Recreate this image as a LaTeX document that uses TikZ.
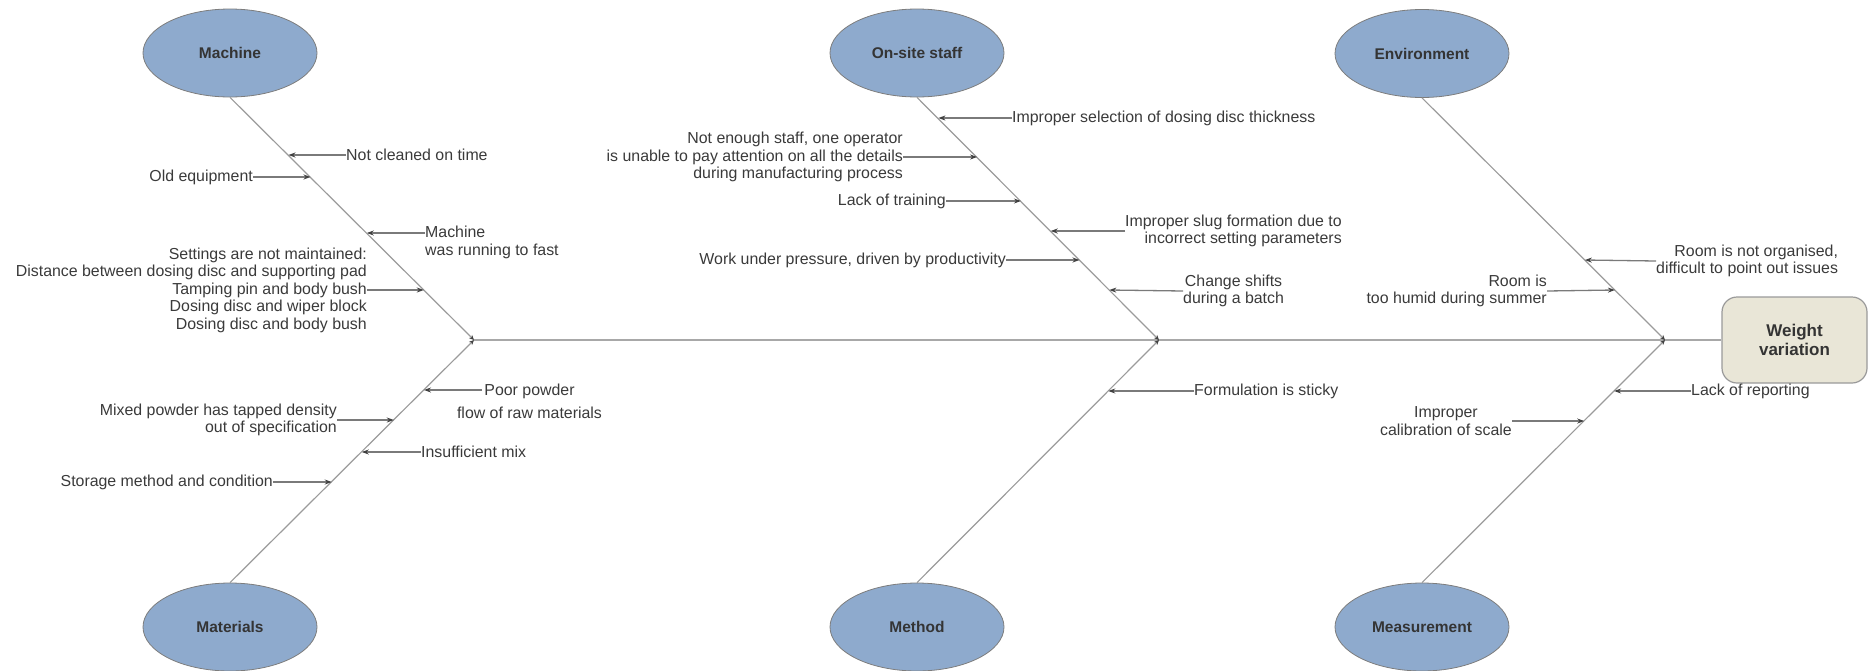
\documentclass[tikz,border=0pt]{standalone}
\usepackage{fontspec}
\setmainfont{Liberation Sans}
\usetikzlibrary{arrows.meta,shapes.geometric,calc}

\definecolor{catfill}{HTML}{8EAACD}
\definecolor{catedge}{HTML}{7D7D7D}
\definecolor{boxfill}{HTML}{E9E6D7}
\definecolor{boxedge}{HTML}{9A9A9A}
\definecolor{bonegray}{HTML}{9B9B9B}
\definecolor{spinegray}{HTML}{A8A8A8}
\definecolor{causeline}{HTML}{7A7A7A}
\definecolor{ink}{HTML}{3A3A3A}
\definecolor{tipink}{HTML}{404040}

\tikzset{
  category/.style={ellipse, draw=catedge, line width=0.8pt, fill=catfill,
    minimum width=174pt, minimum height=88pt, inner sep=0pt,
    font=\fontsize{15.5}{18}\selectfont\bfseries, text=ink!90!black},
  effectbox/.style={rectangle, rounded corners=15pt, draw=boxedge, line width=1.2pt,
    fill=boxfill, minimum width=145pt, minimum height=86pt, align=center,
    font=\fontsize{17}{18.5}\selectfont\bfseries, text=ink!90!black},
  cause/.style={inner sep=0pt, text=ink, font=\fontsize{15.9}{17.5}\selectfont},
  bone/.style={draw=bonegray, line width=1.2pt,
    -{Stealth[length=5pt,width=4.5pt,fill=tipink,color=tipink]}},
  spine/.style={draw=spinegray, line width=2.2pt},
  causearrow/.style={draw=causeline, line width=1.3pt,
    -{Stealth[length=7pt,width=5pt,fill=tipink,color=tipink]}}
}

\begin{document}
\begin{tikzpicture}[x=1pt, y=-1pt]
\useasboundingbox (0,0) rectangle (1874,670);

% category ellipses
\node[category] (machine) at (230,53) {Machine};
\node[category] (staff) at (917,53) {On-site staff};
\node[category] (environment) at (1422,53.5) {Environment};
\node[category] (materials) at (230,627) {Materials};
\node[category] (method) at (917,627) {Method};
\node[category] (measurement) at (1422,627) {Measurement};

% effect
\node[effectbox] (effect) at (1794.5,340) {Weight\\variation};

% junctions on the spine
\coordinate (jL) at (474,340);
\coordinate (jM) at (1159,340);
\coordinate (jR) at (1665,340);

\draw[spine] (jL) -- (effect.west);

\draw[bone] (machine.south) -- (jL);
\draw[bone] (materials.north) -- (jL);
\draw[bone] (staff.south) -- (jM);
\draw[bone] (method.north) -- (jM);
\draw[bone] (environment.south) -- (jR);
\draw[bone] (measurement.north) -- (jR);

% ---- Machine ----
\coordinate (t1) at (288.5,155);
\coordinate (t2) at (310.5,177);
\coordinate (t3) at (366.8,233);
\coordinate (t4) at (423.8,290);
\node[cause, anchor=west] (c1) at (346,155) {Not cleaned on time};
\node[cause, anchor=east] (c2) at (253,177) {Old equipment};
\node[cause, anchor=west, align=left] (c3) at (425,242.5) {Machine\\was running to fast};
\node[cause, anchor=east, align=right] (c4) at (367,290)
  {Settings are not maintained:\\Distance between dosing disc and supporting pad\\Tamping pin and body bush\\Dosing disc and wiper block\\Dosing disc and body bush};
\draw[causearrow] (c1.west) -- (t1);
\draw[causearrow] (c2.east) -- (t2);
\draw[causearrow] (c3.west |- t3) -- (t3);
\draw[causearrow] (c4.east) -- (t4);

% ---- Materials ----
\coordinate (t5) at (424,390);
\coordinate (t6) at (393.8,420);
\coordinate (t7) at (361.8,452);
\coordinate (t8) at (331.7,482);
\coordinate (s5) at (482,390);
\node[cause, align=center] (c5) at (529.5,401.5) {Poor powder\\[5pt]flow of raw materials};
\node[cause, anchor=east, align=right] (c6) at (337,420) {Mixed powder has tapped density\\out of specification};
\node[cause, anchor=west] (c7) at (421,452) {Insufficient mix};
\node[cause, anchor=east] (c8) at (273,482) {Storage method and condition};
\draw[causearrow] (s5) -- (t5);
\draw[causearrow] (c6.east) -- (t6);
\draw[causearrow] (c7.west) -- (t7);
\draw[causearrow] (c8.east) -- (t8);

% ---- On-site staff ----
\coordinate (t9) at (938.4,118);
\coordinate (t10) at (977.1,157);
\coordinate (t11) at (1020.9,201);
\coordinate (t12) at (1050.7,231);
\coordinate (t13) at (1079.5,260);
\coordinate (t14) at (1109.3,290);
\node[cause, anchor=west] (c9) at (1012,118) {Improper selection of dosing disc thickness};
\node[cause, anchor=east, align=right] (c10) at (903,157)
  {Not enough staff, one operator\\is unable to pay attention on all the details\\during manufacturing process};
\node[cause, anchor=east] (c11) at (946,201) {Lack of training};
\node[cause, anchor=west, align=right] (c12) at (1125,231) {Improper slug formation due to\\incorrect setting parameters};
\node[cause, anchor=east] (c13) at (1006,260) {Work under pressure, driven by productivity};
\node[cause, anchor=west, align=center] (c14) at (1183,291) {Change shifts\\during a batch};
\draw[causearrow] (c9.west) -- (t9);
\draw[causearrow] (c10.east) -- (t10);
\draw[causearrow] (c11.east) -- (t11);
\draw[causearrow] (c12.west) -- (t12);
\draw[causearrow] (c13.east) -- (t13);
\draw[causearrow] (c14.west) -- (t14);

% ---- Method ----
\coordinate (t15) at (1108.3,391);
\node[cause, anchor=west] (c15) at (1194,391) {Formulation is sticky};
\draw[causearrow] (c15.west) -- (t15);

% ---- Environment ----
\coordinate (t16) at (1584.8,260);
\coordinate (t17) at (1614.9,290);
\node[cause, anchor=west, align=right] (c16) at (1656,261) {Room is not organised,\\difficult to point out issues};
\node[cause, anchor=east, align=right] (c17) at (1547,291) {Room is\\too humid during summer};
\draw[causearrow] (c16.west) -- (t16);
\draw[causearrow] (c17.east) -- (t17);

% ---- Measurement ----
\coordinate (t18) at (1614.1,391);
\coordinate (t19) at (1584.2,421);
\node[cause, anchor=west] (c18) at (1691,391) {Lack of reporting};
\node[cause, anchor=east, align=center] (c19) at (1512,421) {Improper\\calibration of scale};
\draw[causearrow] (c18.west) -- (t18);
\draw[causearrow] (c19.east) -- (t19);
\end{tikzpicture}
\end{document}
